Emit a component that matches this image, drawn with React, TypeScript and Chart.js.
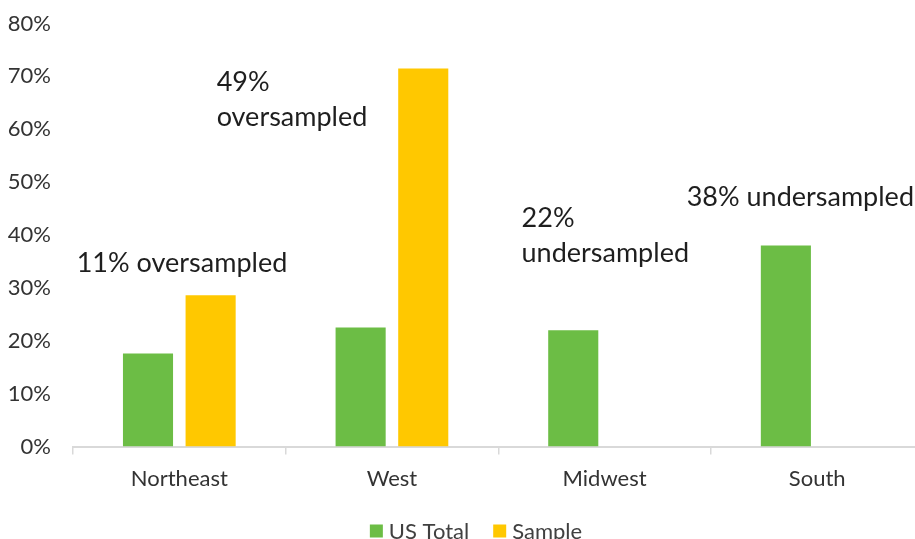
import React, { useEffect, useRef } from "react";
import { Chart, registerables } from "chart.js";

Chart.register(...registerables);

// Regions and the share of each in the US total vs. the survey sample (%)
const categories = ["Northeast", "West", "Midwest", "South"];
const usTotal = [17.6, 22.5, 22.0, 38.0];
const sample = [28.6, 71.5, 0, 0];
const seriesNames = ["US Total", "Sample"];
const yTickValues = [0, 10, 20, 30, 40, 50, 60, 70, 80];

// Call-out text per region
const noteLines = [
  ["11% oversampled"],
  ["49%", "oversampled"],
  ["22%", "undersampled"],
  ["38% undersampled"],
];

const GREEN = "#6cbd45";
const YELLOW = "#ffc800";
const FONT = "Lato, 'Open Sans', sans-serif";

// Placement of each call-out: pixel offset from the category centre, baseline in axis units
const NOTE_PLACEMENT = [
  { dx: -102.6, y: 33.0 },
  { dx: -175.3, y: 67.3 },
  { dx: -83.0, y: 41.5 },
  { dx: -130.5, y: 45.5 },
];

const notesPlugin = {
  id: "regionNotes",
  afterDatasetsDraw(chart: any) {
    const { ctx, scales } = chart;
    const xs = scales.x;
    const ys = scales.y;
    ctx.save();
    ctx.font = `27px ${FONT}`;
    ctx.fillStyle = "#1e1e1e";
    ctx.textAlign = "left";
    ctx.textBaseline = "alphabetic";
    noteLines.forEach((lines, i) => {
      const p = NOTE_PLACEMENT[i];
      const x = xs.getPixelForValue(i) + p.dx;
      const y0 = ys.getPixelForValue(p.y);
      lines.forEach((line, k) => ctx.fillText(line, x, y0 + k * 35));
    });
    ctx.restore();
  },
};

const legendPlugin = {
  id: "bottomLegend",
  afterDraw(chart: any) {
    const { ctx } = chart;
    const datasets = chart.data.datasets;
    ctx.save();
    ctx.font = `22px ${FONT}`;
    ctx.textBaseline = "middle";
    ctx.textAlign = "left";
    const box = 13;
    const gapText = 6;
    const gapItem = 24;
    const widths = datasets.map(
      (d: any) => box + gapText + ctx.measureText(d.label).width
    );
    const total =
      widths.reduce((a: number, b: number) => a + b, 0) +
      gapItem * (datasets.length - 1);
    let x = 476 - total / 2;
    const cy = 531;
    datasets.forEach((d: any, i: number) => {
      ctx.fillStyle = d.backgroundColor;
      ctx.fillRect(x, cy - box / 2, box, box);
      ctx.fillStyle = "#404040";
      ctx.fillText(d.label, x + box + gapText, cy + 1);
      x += widths[i] + gapItem;
    });
    ctx.restore();
  },
};

export default function App() {
  const canvasRef = useRef<HTMLCanvasElement | null>(null);

  useEffect(() => {
    const canvas = canvasRef.current;
    if (!canvas) return;
    const chart = new Chart(canvas, {
      type: "bar",
      data: {
        labels: categories,
        datasets: [
          {
            label: seriesNames[0],
            data: usTotal,
            backgroundColor: GREEN,
            categoryPercentage: 0.589,
            barPercentage: 0.8,
          },
          {
            label: seriesNames[1],
            data: sample,
            backgroundColor: YELLOW,
            categoryPercentage: 0.589,
            barPercentage: 0.8,
          },
        ],
      },
      options: {
        responsive: false,
        animation: false,
        devicePixelRatio: 1,
        layout: { padding: { left: 0, right: 16.5, top: 23.5, bottom: 0 } },
        plugins: {
          legend: { display: false },
          tooltip: { enabled: false },
        },
        scales: {
          x: {
            grid: {
              display: true,
              offset: true,
              drawOnChartArea: false,
              drawTicks: true,
              tickLength: 8,
              color: "#d9d9d9",
              lineWidth: 1.5,
            },
            border: { display: true, color: "#d9d9d9", width: 2 },
            ticks: {
              color: "#333333",
              font: { family: FONT, size: 22 },
              padding: 11,
              maxRotation: 0,
            },
            afterFit: (scale: any) => {
              scale.height = 113.5;
              scale.paddingLeft = 0;
              scale.paddingRight = 0;
            },
          },
          y: {
            min: 0,
            max: 80,
            afterBuildTicks: (scale: any) => {
              scale.ticks = yTickValues.map((v) => ({ value: v }));
            },
            grid: { display: false, drawTicks: false },
            border: { display: false },
            ticks: {
              color: "#333333",
              font: { family: FONT, size: 22 },
              padding: 22,
              callback: (v: any) => `${v}%`,
            },
            afterFit: (scale: any) => {
              scale.width = 73;
              scale.paddingTop = 0;
              scale.paddingBottom = 0;
            },
          },
        },
      },
      plugins: [notesPlugin, legendPlugin],
    });
    return () => chart.destroy();
  }, []);

  return (
    <div
      style={{
        position: "fixed",
        left: 0,
        top: 0,
        width: 915,
        height: 539,
        overflow: "hidden",
        background: "#ffffff",
      }}
    >
      <canvas ref={canvasRef} width={940} height={560} style={{ display: "block" }} />
    </div>
  );
}
